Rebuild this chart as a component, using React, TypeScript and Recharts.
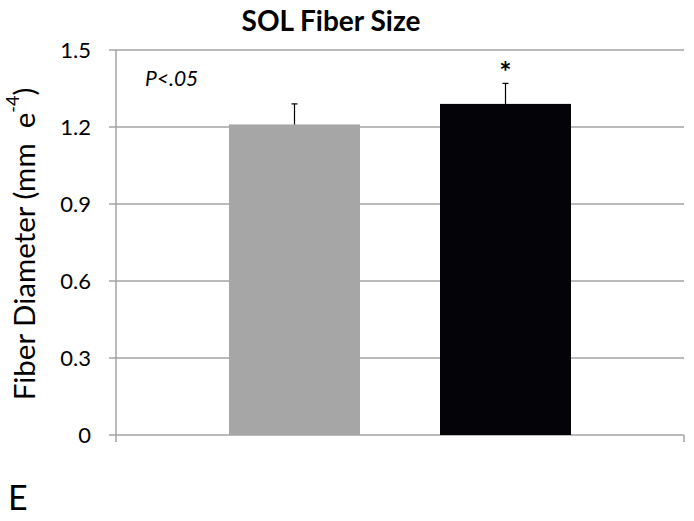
import React from 'react';
import { BarChart, Bar, XAxis, YAxis, CartesianGrid, LabelList, Label } from 'recharts';

// chart values
const categories = ['SOL'];
const controlMeans = [1.21];
const controlErr = [0.08];
const treatedMeans = [1.29];
const treatedErr = [0.08];
const treatedSig = ['*'];
const yTicks = [0, 0.3, 0.6, 0.9, 1.2, 1.5];

const WIDTH = 694;
const HEIGHT = 521;
const MARGIN = { top: 50, right: 10, bottom: 86, left: 0 };
const Y_AXIS_WIDTH = 116;
const GRID = '#a3a3a3';
const FONT = 'Lato, "Open Sans", sans-serif';

const data = categories.map((name, i) => ({
  name,
  control: controlMeans[i],
  controlErr: controlErr[i],
  treated: treatedMeans[i],
  treatedErr: treatedErr[i],
  sig: treatedSig[i],
}));

// bar with an upper-only error whisker (Excel "plus" style)
const barWithErr = (errKey: string, valKey: string) => (props: any) => {
  const { x, y, width, height, fill, payload } = props;
  const pxPerUnit = height / payload[valKey];
  const top = y - payload[errKey] * pxPerUnit;
  const cx = x + width / 2;
  return (
    <g>
      <rect x={x} y={y} width={width} height={height} fill={fill} />
      <line x1={cx} x2={cx} y1={y} y2={top} stroke="#000" strokeWidth={1.2} />
      <line x1={cx - 3} x2={cx + 3} y1={top} y2={top} stroke="#000" strokeWidth={1.2} />
    </g>
  );
};

const YLabel = () => {
  const cx = 23;
  const cy = 244;
  return (
    <text
      x={cx}
      y={cy}
      transform={`rotate(-90, ${cx}, ${cy})`}
      textAnchor="middle"
      dominantBaseline="central"
      fontSize={29.5}
      fontFamily={FONT}
      fill="#000"
    >
      {'Fiber Diameter (mm\u00a0\u00a0e'}
      <tspan dy={-11} fontSize={18}>-4</tspan>
      <tspan dy={11}>)</tspan>
    </text>
  );
};

const SigLabel = ({ x, y, width, value }: any) => (
  <text x={x + width / 2} y={y - 22} textAnchor="middle" fontSize={29} fontWeight="bold" fontFamily={FONT} fill="#000">
    {value}
  </text>
);

export default function App() {
  const plotLeft = Y_AXIS_WIDTH + MARGIN.left;
  const plotRight = WIDTH - MARGIN.right;
  const plotBottom = HEIGHT - MARGIN.bottom;
  return (
    <div style={{ position: 'absolute', left: 0, top: 0, width: WIDTH, height: HEIGHT, background: '#fff', fontFamily: FONT }}>
      <BarChart width={WIDTH} height={HEIGHT} data={data} margin={MARGIN} barSize={131} barGap={80}>
        <CartesianGrid vertical={false} stroke={GRID} strokeWidth={1.5} />
        <XAxis dataKey="name" tick={false} tickLine={false} axisLine={{ stroke: GRID, strokeWidth: 1.5 }} height={0} />
        <YAxis
          width={Y_AXIS_WIDTH}
          domain={[0, 1.5]}
          ticks={yTicks}
          interval={0}
          tickFormatter={(v: number) => (v === 0 ? '0' : v.toFixed(1))}
          tick={{ fontSize: 22, fontFamily: FONT, fill: '#000' }}
          tickSize={7}
          tickMargin={18}
          tickLine={{ stroke: GRID, strokeWidth: 1.5 }}
          axisLine={{ stroke: GRID, strokeWidth: 1.5 }}
        >
          <Label content={<YLabel />} />
        </YAxis>
        <Bar dataKey="control" fill="#a6a6a6" isAnimationActive={false} shape={barWithErr('controlErr', 'control')} />
        <Bar dataKey="treated" fill="#040408" isAnimationActive={false} shape={barWithErr('treatedErr', 'treated')}>
          <LabelList dataKey="sig" content={<SigLabel />} />
        </Bar>
      </BarChart>
      <svg width={WIDTH} height={HEIGHT} style={{ position: 'absolute', left: 0, top: 0, pointerEvents: 'none' }}>
        <line x1={plotLeft} x2={plotLeft} y1={plotBottom} y2={plotBottom + 7} stroke={GRID} strokeWidth={1.5} />
        <line x1={plotRight} x2={plotRight} y1={plotBottom} y2={plotBottom + 7} stroke={GRID} strokeWidth={1.5} />
        <text x={331} y={31} textAnchor="middle" fontSize={28} fontWeight="bold" fontFamily={FONT} fill="#000">
          SOL Fiber Size
        </text>
        <text x={145} y={86} fontSize={21} fontStyle="italic" fontFamily={FONT} fill="#000">
          P&lt;.05
        </text>
        <text x={8} y={510} fontSize={34} fontFamily={FONT} fill="#000">
          E
        </text>
      </svg>
    </div>
  );
}
